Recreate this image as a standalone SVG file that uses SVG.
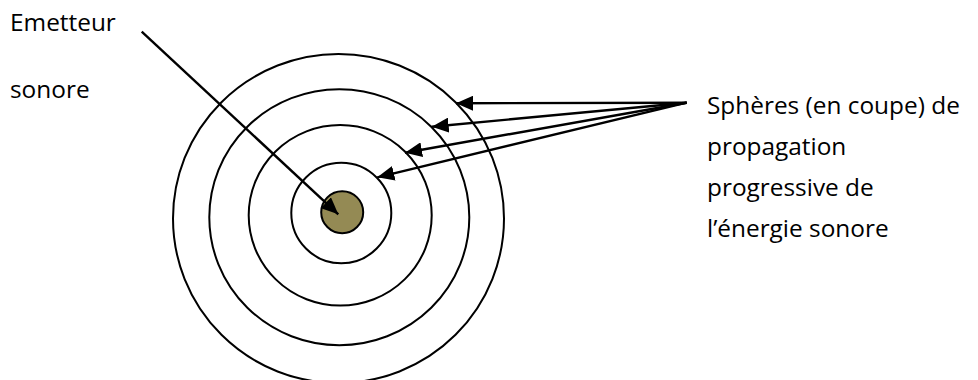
<svg xmlns="http://www.w3.org/2000/svg" width="978" height="380" viewBox="0 0 978 380">
<style>
.ring{fill:none;stroke:#000;stroke-width:2}
.lbl{font-family:"Open Sans","Noto Sans",sans-serif;font-size:24.4px;fill:#000}
.con{stroke:#000;stroke-width:2.4;fill:none;marker-end:url(#ah)}
</style>
<defs>
<marker id="ah" markerUnits="userSpaceOnUse" markerWidth="17" markerHeight="15" refX="17" refY="7.5" orient="auto">
<path d="M0,0 L17,7.5 L0,15 z" fill="#000"/>
</marker>
</defs>
<rect width="978" height="380" fill="#fff"/>
<g id="ring1"><ellipse class="ring" cx="338.5" cy="218.5" rx="165.5" ry="164.5"/></g>
<g id="ring2"><ellipse class="ring" cx="339.3" cy="217.2" rx="130" ry="128"/></g>
<g id="ring3"><ellipse class="ring" cx="340.2" cy="215.3" rx="91.5" ry="90.3"/></g>
<g id="ring4"><ellipse class="ring" cx="341.3" cy="213" rx="50" ry="50.3"/></g>
<g id="source"><circle cx="342.2" cy="212.2" r="21" fill="#948A54" stroke="#000" stroke-width="2"/></g>
<g id="label-emetteur">
<text class="lbl" x="10" y="31">Emetteur</text>
<text class="lbl" x="10" y="98">sonore</text>
</g>
<g id="label-spheres">
<text class="lbl" x="707" y="114">Sphères (en coupe) de</text>
<text class="lbl" x="707" y="155">propagation</text>
<text class="lbl" x="707" y="196">progressive de</text>
<text class="lbl" x="707" y="237">l’énergie sonore</text>
</g>
<g id="connectors">
<line class="con" x1="141.7" y1="31.7" x2="338.3" y2="214.3"/>
<line class="con" x1="686.7" y1="102.7" x2="456" y2="103.3"/>
<line class="con" x1="686.7" y1="102.7" x2="431.7" y2="126.7"/>
<line class="con" x1="686.7" y1="102.7" x2="405" y2="152.7"/>
<line class="con" x1="686.7" y1="102.7" x2="377.3" y2="177.3"/>
</g>
</svg>
